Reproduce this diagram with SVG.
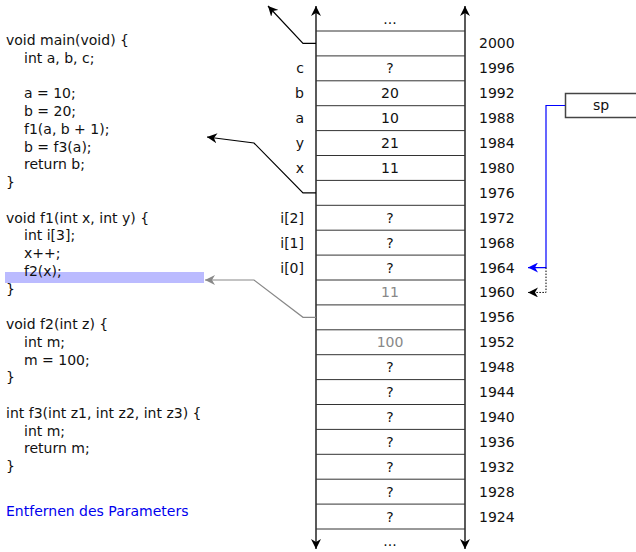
<svg xmlns="http://www.w3.org/2000/svg" width="636" height="552" viewBox="0 0 636 552">
<style>
text{font-family:"DejaVu Sans","Liberation Sans",sans-serif;font-size:14px;fill:#111}
.v{text-anchor:middle}
.l{text-anchor:end}
.g{fill:#888}
.b{fill:#0000ee}
.row{stroke:#333;stroke-width:1}
.ax{stroke:#000;stroke-width:1.3;fill:none}
.cb{stroke:#000;stroke-width:1.2;fill:none}
</style>
<defs>
<marker id="ab" markerUnits="userSpaceOnUse" markerWidth="12" markerHeight="10" refX="10" refY="5" orient="auto-start-reverse"><path d="M0,0 L10,5 L0,10 L3,5 Z" fill="#000"/></marker>
<marker id="ag" markerUnits="userSpaceOnUse" markerWidth="12" markerHeight="10" refX="10" refY="5" orient="auto"><path d="M0,0 L10,5 L0,10 L3,5 Z" fill="#888"/></marker>
<marker id="abl" markerUnits="userSpaceOnUse" markerWidth="12" markerHeight="10" refX="10" refY="5" orient="auto"><path d="M0,0 L10,5 L0,10 L3,5 Z" fill="#0000ff"/></marker>
</defs>
<g id="code">
<rect x="5" y="272" width="199" height="11" fill="#bbbbff"/>
<text x="6" y="45">void main(void) {</text>
<text x="24" y="62.75">int a, b, c;</text>
<text x="24" y="98.25">a = 10;</text>
<text x="24" y="116">b = 20;</text>
<text x="24" y="133.75">f1(a, b + 1);</text>
<text x="24" y="151.5">b = f3(a);</text>
<text x="24" y="169.25">return b;</text>
<text x="6" y="187">}</text>
<text x="6" y="222.5">void f1(int x, int y) {</text>
<text x="24" y="240.25">int i[3];</text>
<text x="24" y="258">x++;</text>
<text x="24" y="275.75">f2(x);</text>
<text x="6" y="293.5">}</text>
<text x="6" y="329">void f2(int z) {</text>
<text x="24" y="346.75">int m;</text>
<text x="24" y="364.5">m = 100;</text>
<text x="6" y="382.25">}</text>
<text x="6" y="417.75">int f3(int z1, int z2, int z3) {</text>
<text x="24" y="435.5">int m;</text>
<text x="24" y="453.25">return m;</text>
<text x="6" y="471">}</text>
<text x="6" y="516" class="b">Entfernen des Parameters</text>
</g>
<g id="stack">
<path class="ax" d="M316,280 V6" marker-end="url(#ab)"/>
<path class="ax" d="M316,280 V549" marker-end="url(#ab)"/>
<path class="ax" d="M465,280 V6" marker-end="url(#ab)"/>
<path class="ax" d="M465,280 V549" marker-end="url(#ab)"/>
<path class="row" d="M316,31H465M316,55.9H465M316,80.8H465M316,105.7H465M316,130.6H465M316,155.5H465M316,180.4H465M316,205.3H465M316,230.2H465M316,255.1H465M316,280H465M316,304.9H465M316,329.8H465M316,354.7H465M316,379.6H465M316,404.5H465M316,429.4H465M316,454.3H465M316,479.2H465M316,504.1H465M316,529H465"/>
<text x="390" y="23.5" class="v">...</text>
<text x="390" y="546" class="v">...</text>
<text x="390" y="73.35" class="v">?</text>
<text x="390" y="98.25" class="v">20</text>
<text x="390" y="123.15" class="v">10</text>
<text x="390" y="148.05" class="v">21</text>
<text x="390" y="172.95" class="v">11</text>
<text x="390" y="222.75" class="v">?</text>
<text x="390" y="247.65" class="v">?</text>
<text x="390" y="272.55" class="v">?</text>
<text x="390" y="297.45" class="v g">11</text>
<text x="390" y="347.25" class="v g">100</text>
<text x="390" y="372.15" class="v">?</text>
<text x="390" y="397.05" class="v">?</text>
<text x="390" y="421.95" class="v">?</text>
<text x="390" y="446.85" class="v">?</text>
<text x="390" y="471.75" class="v">?</text>
<text x="390" y="496.65" class="v">?</text>
<text x="390" y="521.55" class="v">?</text>
<text x="304" y="73.35" class="l">c</text>
<text x="304" y="98.25" class="l">b</text>
<text x="304" y="123.15" class="l">a</text>
<text x="304" y="148.05" class="l">y</text>
<text x="304" y="172.95" class="l">x</text>
<text x="304" y="222.75" class="l">i[2]</text>
<text x="304" y="247.65" class="l">i[1]</text>
<text x="304" y="272.55" class="l">i[0]</text>
<text x="479" y="48.45">2000</text>
<text x="479" y="73.35">1996</text>
<text x="479" y="98.25">1992</text>
<text x="479" y="123.15">1988</text>
<text x="479" y="148.05">1984</text>
<text x="479" y="172.95">1980</text>
<text x="479" y="197.85">1976</text>
<text x="479" y="222.75">1972</text>
<text x="479" y="247.65">1968</text>
<text x="479" y="272.55">1964</text>
<text x="479" y="297.45">1960</text>
<text x="479" y="322.35">1956</text>
<text x="479" y="347.25">1952</text>
<text x="479" y="372.15">1948</text>
<text x="479" y="397.05">1944</text>
<text x="479" y="421.95">1940</text>
<text x="479" y="446.85">1936</text>
<text x="479" y="471.75">1932</text>
<text x="479" y="496.65">1928</text>
<text x="479" y="521.55">1924</text>
</g>
<g id="sp">
<rect x="565.5" y="93.5" width="80" height="24" fill="#fff" stroke="#444" stroke-width="1.5"/>
<text x="601" y="110" class="v">sp</text>
</g>
<g id="connectors">
<polyline class="cb" points="316,43.45 303,43.45 268,6" marker-end="url(#ab)"/>
<polyline class="cb" points="316,192.85 303,192.85 254,143 207,137" marker-end="url(#ab)"/>
<polyline points="316,317.35 303,317.35 254,280 205,280" fill="none" stroke="#888" stroke-width="1.2" marker-end="url(#ag)"/>
<polyline points="565,105.5 546,105.5 546,267.55 528,267.55" fill="none" stroke="#0000ff" stroke-width="1.2" marker-end="url(#abl)"/>
<polyline points="546,267.55 546,292.45 528,292.45" fill="none" stroke="#000" stroke-width="1" stroke-dasharray="1.5,1.5" marker-end="url(#ab)"/>
</g>
</svg>
